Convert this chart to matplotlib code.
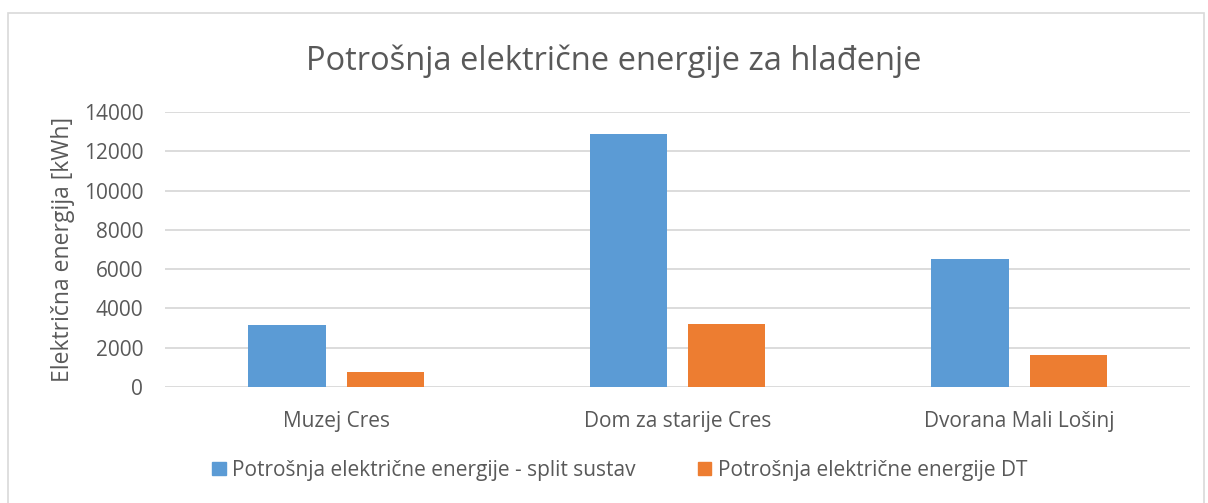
import matplotlib
matplotlib.use("Agg")
from matplotlib import pyplot as plt
from matplotlib.patches import Rectangle, Patch
import numpy as np

# data
categories = ["Muzej Cres", "Dom za starije Cres", "Dvorana Mali Lošinj"]
split_sustav = [3170, 12910, 6520]
dt = [760, 3220, 1610]
series_names = ["Potrošnja električne energije - split sustav",
                "Potrošnja električne energije DT"]
yticks = [0, 2000, 4000, 6000, 8000, 10000, 12000, 14000]

plt.rcParams['font.family'] = ['Open Sans', 'DejaVu Sans']
grey = "#595959"

fig = plt.figure(figsize=(12.08, 5.03), dpi=100)
ax = fig.add_axes([0.137, 0.2306, 0.848, 0.5464])

x = np.arange(len(categories))
w = 0.226
off = 0.144
ax.bar(x - off, split_sustav, w, color="#5B9BD5", zorder=3)
ax.bar(x + off, dt, w, color="#ED7D31", zorder=3)

ax.set_xlim(-0.5, len(categories) - 0.5)
ax.set_ylim(0, 14000)
ax.set_yticks(yticks)
ax.set_yticklabels([str(v) for v in yticks], fontsize=15, color=grey)
ax.set_xticks(x)
ax.set_xticklabels(categories, fontsize=15, color=grey)
ax.tick_params(axis="both", length=0)
ax.tick_params(axis="y", pad=16)
ax.tick_params(axis="x", pad=17)
ax.grid(axis="y", color="#d9d9d9", linewidth=1.3, zorder=0)
for s in ax.spines.values():
    s.set_visible(False)

ax.set_ylabel("Električna energija [kWh]", fontsize=16.5, color=grey, labelpad=6)
fig.text(0.508, 0.878, "Potrošnja električne energije za hlađenje",
         fontsize=23.5, color=grey, ha="center", va="center")

handles = [Patch(color="#5B9BD5"), Patch(color="#ED7D31")]
fig.legend(handles, series_names, loc="center", bbox_to_anchor=(0.513, 0.065),
           ncol=2, frameon=False, fontsize=15, labelcolor=grey,
           handlelength=0.65, handleheight=0.65, handletextpad=0.3,
           columnspacing=3.0)

# chart border
fig.patches.append(Rectangle((0.007, -0.01), 0.99, 0.984, transform=fig.transFigure,
                             fill=False, edgecolor="#d9d9d9", linewidth=1.2))

fig.savefig("out.png", dpi=100)
